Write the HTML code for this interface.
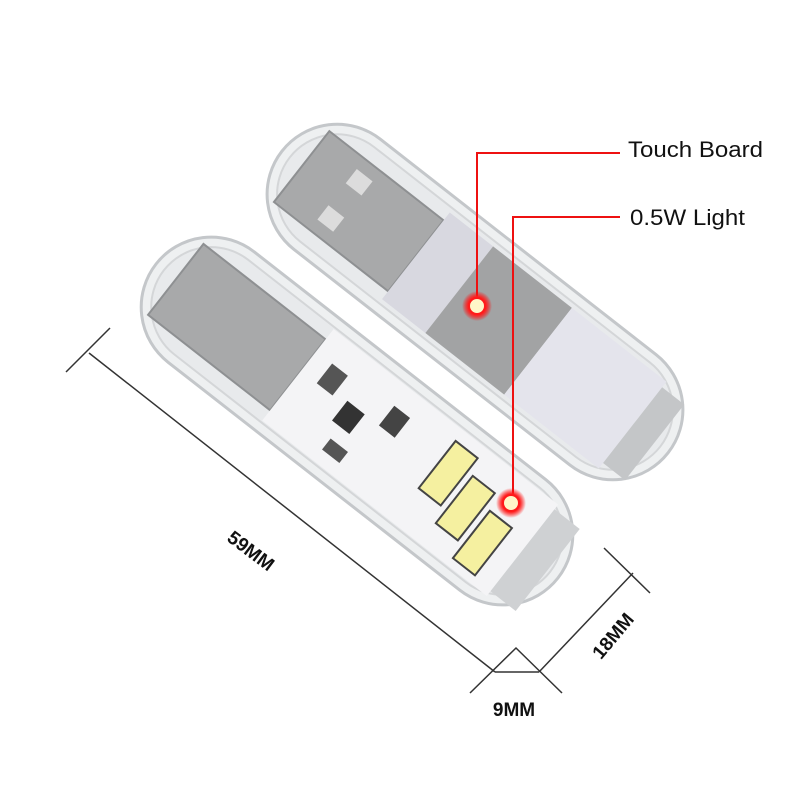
<!DOCTYPE html>
<html><head><style>html,body{margin:0;padding:0;background:#fff;width:800px;height:800px;overflow:hidden}</style></head>
<body>
<svg width="800" height="800" viewBox="0 0 800 800" xmlns="http://www.w3.org/2000/svg" font-family="Liberation Sans, sans-serif">
<defs>
<radialGradient id="rd"><stop offset="0" stop-color="#fffbe0"/><stop offset="0.45" stop-color="#ffe9a0"/><stop offset="0.6" stop-color="#ff2020"/><stop offset="1" stop-color="#ff0000" stop-opacity="0"/></radialGradient>
</defs>
<!-- back capsule -->
<g transform="translate(475,302) rotate(38)">
<rect x="-245" y="-70" width="490" height="140" rx="70" fill="#eef0f1" stroke="#c4c7ca" stroke-width="3"/>
<rect x="-235" y="-60" width="470" height="120" rx="60" fill="#e8eaec" stroke="#d4d6d8" stroke-width="2"/>
<rect x="-220" y="-45" width="145" height="90" fill="#a8a9aa" stroke="#8e9092" stroke-width="2"/>
<rect x="-175" y="-32" width="20" height="18" fill="#dcdcdc"/>
<rect x="-175" y="14" width="20" height="18" fill="#dcdcdc"/>
<rect x="-75" y="-55" width="55" height="110" fill="#d8d8e0"/>
<rect x="-20" y="-55" width="100" height="110" fill="#a2a3a4"/>
<rect x="80" y="-55" width="120" height="110" fill="#e4e4ec"/>
<rect x="200" y="-48" width="28" height="96" fill="#c4c6c8"/>
</g>
<!-- front capsule -->
<g transform="translate(357,421) rotate(38)">
<rect x="-255" y="-70" width="510" height="140" rx="70" fill="#eef0f1" stroke="#c4c7ca" stroke-width="3"/>
<rect x="-245" y="-60" width="490" height="120" rx="60" fill="#e8eaec" stroke="#d4d6d8" stroke-width="2"/>
<rect x="-230" y="-45" width="155" height="90" fill="#a8a9aa" stroke="#8e9092" stroke-width="2"/>
<rect x="-75" y="-58" width="285" height="116" fill="#f4f4f6"/>
<rect x="-55" y="-30" width="20" height="25" fill="#555"/>
<rect x="-20" y="-10" width="22" height="25" fill="#333"/>
<rect x="20" y="-35" width="20" height="25" fill="#444"/>
<rect x="-10" y="30" width="22" height="14" fill="#555"/>
<g fill="#f5f0a0" stroke="#444" stroke-width="2">
<rect x="90" y="-45" width="28" height="60"/>
<rect x="125" y="-28" width="28" height="60"/>
<rect x="160" y="-11" width="28" height="60"/>
</g>
<rect x="210" y="-52" width="32" height="104" fill="#cfd1d3"/>
</g>
<!-- red callouts -->
<polyline points="620,153 477,153 477,308" fill="none" stroke="#ee1111" stroke-width="2"/>
<polyline points="620,217 513,217 513,505" fill="none" stroke="#ee1111" stroke-width="2"/>
<circle cx="477" cy="306" r="15" fill="url(#rd)"/>
<circle cx="477" cy="306" r="8" fill="#fff6c8" stroke="#ff1a1a" stroke-width="2"/>
<circle cx="511" cy="503" r="15" fill="url(#rd)"/>
<circle cx="511" cy="503" r="8" fill="#fff6c8" stroke="#ff1a1a" stroke-width="2"/>
<text x="628" y="157" font-size="22" fill="#111" textLength="135" lengthAdjust="spacingAndGlyphs">Touch Board</text>
<text x="630" y="225" font-size="22" fill="#111" textLength="115" lengthAdjust="spacingAndGlyphs">0.5W Light</text>
<!-- dimension lines -->
<g stroke="#333" stroke-width="1.5" fill="none">
<line x1="89" y1="353" x2="495" y2="672"/>
<line x1="66" y1="372" x2="110" y2="328"/>
<polyline points="470,693 516,648 562,693"/>
<line x1="495" y1="672" x2="539" y2="672"/>
<line x1="539" y1="672" x2="633" y2="573"/>
<line x1="604" y1="548" x2="650" y2="593"/>
</g>
<text transform="translate(247,556) rotate(37)" text-anchor="middle" font-size="19" font-weight="bold" fill="#111">59MM</text>
<text transform="translate(618,640) rotate(-50)" text-anchor="middle" font-size="19" font-weight="bold" fill="#111">18MM</text>
<text x="514" y="716" text-anchor="middle" font-size="19" font-weight="bold" fill="#111">9MM</text>
</svg>
</body></html>
